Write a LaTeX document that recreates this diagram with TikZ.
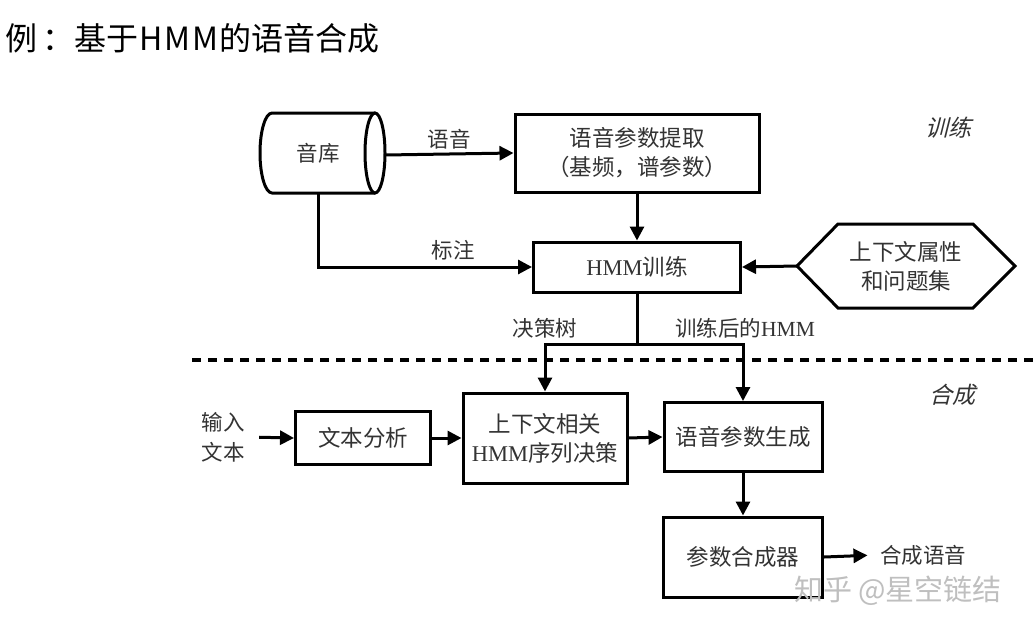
\documentclass[tikz,border=0pt]{standalone}
\usepackage{fontspec}
\setmainfont{Noto Sans CJK SC}
\newfontfamily\cjkit[FakeSlant=0.25]{Noto Sans CJK SC}
\newfontfamily\latserif{Liberation Serif}
\usetikzlibrary{arrows.meta,calc}
\begin{document}
\begin{tikzpicture}[x=1pt,y=-1pt,
  box/.style={draw, line width=3pt, inner sep=0pt, font=\fontsize{22.5}{29}\selectfont, text=black!80, align=center},
  conn/.style={line width=3pt, -{Triangle[length=14pt,width=14pt]}},
  thick3/.style={line width=3pt},
  lbl/.style={font=\fontsize{21.5}{30}\selectfont, text=black!80, align=center},
  stage/.style={font=\cjkit\fontsize{23}{26}\selectfont, text=black!80},
]
\useasboundingbox (0,0) rectangle (1036,635);
\fill[white] (0,0) rectangle (1036,635);

% title
\node[anchor=west, inner sep=0pt, font=\fontsize{32}{36}\selectfont] (title) at (5,38) {例\,：基于\kern1pt H\kern2pt M\kern2pt M\kern1pt 的语音合成};

% cylinder
\draw[thick3, line join=round] (375,113) -- (272,113)
  arc[start angle=-90, end angle=-270, x radius=12, y radius=40] -- (375,193);
\draw[thick3] (375,153) ellipse[x radius=10, y radius=40];
\node[lbl] (cyl) at (318,153) {音库};
\coordinate (cylE) at (385,155);
\coordinate (cylS) at (318,193);

% training boxes
\node[box, minimum width=244pt, minimum height=78pt] (b1) at (637,153) {语音参数提取\\（基频，谱参数）};
\node[box, minimum width=207pt, minimum height=50pt] (hmm) at (637,267) {{\latserif HMM}训练};

% hexagon
\draw[thick3, line join=miter] (797,266) -- (838,224) -- (973,224) -- (1015,266) -- (973,308) -- (838,308) -- cycle;
\node[box, draw=none] (hex) at (906,266) {上下文属性\\和问题集};
\coordinate (hexW) at (797,266);

\draw[conn] (cylE) -- (b1.west) node[lbl, midway, above=0pt] (lv) {语音};
\draw[conn] (b1.south) -- (hmm.north);
\draw[conn] (cylS) |- (hmm.west);
\node[lbl] (lb) at (453,250) {标注};
\draw[conn] (hexW) -- (hmm.east);

% stages
\node[stage] (st1) at (948,128) {训练};
\node[stage] (st2) at (952,395) {合成};

% dashed separator
\draw[line width=4pt, dash pattern=on 9pt off 7pt] (192,360) -- (1036,360);

% synthesis boxes
\node[lbl] (inp) at (223,437) {输入\\文本};
\node[box, minimum width=135pt, minimum height=53pt] (ta) at (363,438) {文本分析};
\node[box, minimum width=164pt, minimum height=90pt] (dec) at (545,438) {上下文相关\\{\latserif HMM}序列决策};
\node[box, minimum width=158pt, minimum height=69pt] (gen) at (743,437) {语音参数生成};
\node[box, minimum width=159pt, minimum height=80pt] (syn) at (743,557) {参数合成器};
\node[lbl] (out) at (923,555) {合成语音};

\coordinate (split) at (637,344);
\draw[thick3] (hmm.south) -- (split);
\draw[conn, line join=miter] (split) -| (dec.north);
\draw[conn, line join=miter] (split) -| (gen.north);
\node[lbl] (ltree) at (545,328) {决策树};
\node[lbl] (ltrained) at (745,328) {训练后的{\latserif HMM}};

\draw[conn, shorten <=11pt] (inp.east) -- (ta.west);
\draw[conn] (ta.east) -- (dec.west);
\draw[conn] (dec.east) -- (gen.west);
\draw[conn] (gen.south) -- (syn.north);
\draw[conn, shorten >=9pt] (syn.east) -- (out.west);

% watermark
\node[text=black!25, font=\fontsize{29}{31}\selectfont] (wm) at (898,591) {知乎 @星空链结};
\end{tikzpicture}
\end{document}
